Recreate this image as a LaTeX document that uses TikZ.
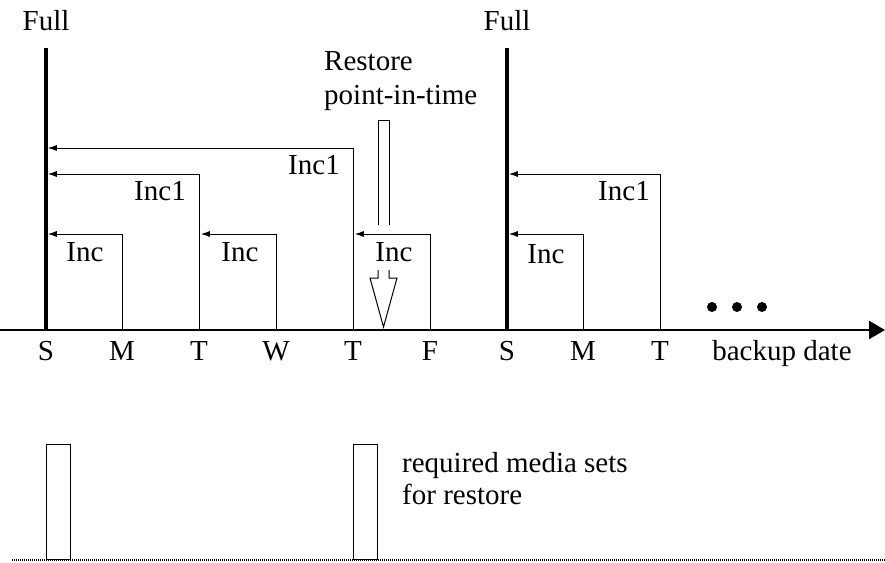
\documentclass[tikz,border=0pt]{standalone}
\usepackage{fontspec}
\setmainfont{Liberation Serif}
\usetikzlibrary{arrows.meta}
\begin{document}
\begin{tikzpicture}[x=1pt, y=-1pt,
	every node/.style = {font=\fontsize{29}{34}\selectfont, inner sep=0pt},
	full/.style = {line width=3.5pt},
	inc/.style = {line width=1pt, shorten >=1.75pt, -{Latex[length=9pt,width=6pt]}},
	hollow/.style = {line width=1pt},
	media/.style = {draw, line width=1pt, minimum width=24pt, minimum height=115pt, anchor=south west}]
	\useasboundingbox (0,0) rectangle (885,562);
	% time axis
	\coordinate (start) at (0,330);
	\coordinate (end) at (885,330);
	\draw[line width=2.5pt, -{Triangle[length=16pt,width=18pt]}] (start) -- (end);
	\foreach \d/\x/\lbl in {dS/46/S, dM/122/M, dT/199/T, dW/276/W, dR/353/T, dF/430/F, dSS/507/S, dMM/583/M, dTT/660/T} {
		\coordinate (\d) at (\x,330);
		\node[anchor=base] (l\d) at (\x,360) {\lbl};
	}
	\node[anchor=base] (date) at (782,360) {backup date};
	\foreach \x in {712,737,762} \fill (\x,307) circle (5pt);
	% full backups
	\node[anchor=base] (full1) at (46,30) {Full};
	\node[anchor=base] (full2) at (507,30) {Full};
	\coordinate (top1) at (46,48);
	\coordinate (top2) at (507,48);
	\draw[full] (top1) -- (dS);
	\draw[full] (top2) -- (dSS);
	% incrementals
	\draw[inc] (dM) |- (dS |- 0,234);
	\draw[inc] (dT) |- (dS |- 0,174);
	\draw[inc] (dR) |- (dS |- 0,148);
	\draw[inc] (dW) |- (dT |- 0,234);
	\draw[inc] (dF) |- (dR |- 0,234);
	\draw[inc] (dMM) |- (dSS |- 0,234);
	\draw[inc] (dTT) |- (dSS |- 0,174);
	\node[anchor=base] (inc1) at (85,261) {Inc};
	\node[anchor=base] (inc2) at (240,261) {Inc};
	\node[anchor=base] (inc3) at (394,261) {Inc};
	\node[anchor=base] (inc4) at (546,263) {Inc};
	\node[anchor=base] (incA) at (160,200) {Inc1};
	\node[anchor=base] (incB) at (314,174) {Inc1};
	\node[anchor=base] (incC) at (624,200) {Inc1};
	% restore point
	\node[anchor=base west] (restore) at (324,70) {Restore};
	\node[anchor=base west] (pit) at (324,104) {point-in-time};
	\draw[hollow] (378,225) |- (389,120) -- (389,225);
	\draw[hollow] (378,270) -- (378,278) -- (370,278) -- (383.5,327) -- (397,278) -- (389,278) -- (389,270);
	% media sets
	\draw[line width=2pt, dash pattern=on 1pt off 1pt] (12,560) -- (885,560);
	\node[media] (set1) at (46,560) {};
	\node[media] (set2) at (353,560) {};
	\node[anchor=base west] (req) at (402,472) {required media sets};
	\node[anchor=base west] (forr) at (402,504) {for restore};
\end{tikzpicture}
\end{document}
